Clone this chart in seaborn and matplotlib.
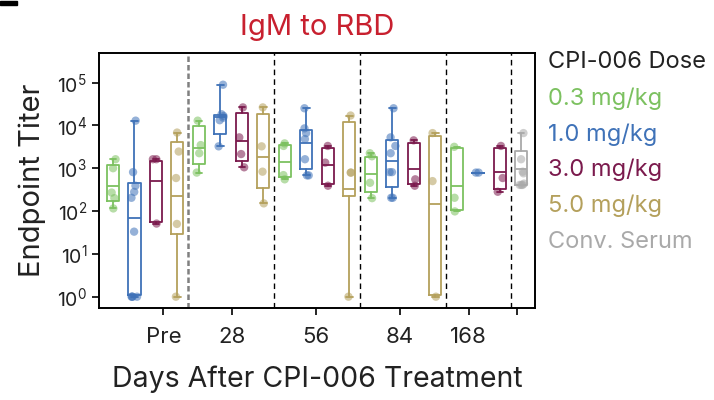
import numpy as np
import pandas as pd
import matplotlib
matplotlib.use('Agg')
import matplotlib.pyplot as plt
from matplotlib.patches import Rectangle
from matplotlib.ticker import FixedLocator, FuncFormatter, NullLocator
import seaborn as sns

# ---------------------------------------------------------------------------
# Data
# ---------------------------------------------------------------------------
dose_labels = ['0.3 mg/kg', '1.0 mg/kg', '3.0 mg/kg', '5.0 mg/kg', 'Conv. Serum']
dose_colors = ['#7cc160', '#3f72b8', '#7b1a4d', '#b4a05c', '#a9a9a9']

# one entry per box, left to right (Pre, 28, 56, 84, 168, convalescent serum)
box_dose = [0, 1, 2, 3,
            0, 1, 2, 3,
            0, 1, 2, 3,
            0, 1, 2, 3,
            0, 1, 2,
            4]

# individual endpoint titers per box
points = [
    [115, 200, 270, 1000, 1620],
    [1, 1, 1, 1, 33, 204, 280, 390, 810, 12900],
    [51, 1620, 1620],
    [1, 50, 590, 2450, 6800],
    [790, 2240, 3470, 12900],
    [3240, 13200, 15100, 16600, 18200, 89000],
    [1050, 2140, 5250, 26300],
    [151, 830, 3240, 26300],
    [550, 690, 3310, 3800],
    [680, 680, 1620, 4790, 6610, 8510, 25100],
    [390, 1350, 3310],
    [1, 790, 790, 17000],
    [200, 457, 1900, 2240],
    [204, 204, 810, 810, 2240, 3310, 5250, 25100],
    [390, 550, 4470],
    [1, 500, 6610],
    [98, 204, 3160],
    [790, 790],
    [282, 590, 3310],
    [407, 407, 407, 437, 760, 830, 1620, 6610],
]

# box summaries as drawn in the reference
whis_lo = [115, 1, 51, 1, 790, 3240, 1050, 151, 550, 680, 390, 1,
           200, 204, 390, 1, 98, 790, 282, 400]
q1 = [174, 1.1, 55, 29, 1230, 6310, 1480, 339, 617, 955, 427, 219,
      282, 372, 427, 1.1, 107, 790, 324, 400]
med = [390, 68, 500, 219, 2950, 15500, 4370, 1780, 1410, 3800, 1200, 331,
       740, 1510, 980, 148, 390, 790, 830, 955]
q3 = [1200, 457, 1510, 4070, 9770, 17800, 19100, 18600, 3470, 7760, 2950, 11700,
      1820, 4470, 3980, 5620, 2950, 790, 2950, 2570]
whis_hi = [1620, 12900, 1620, 6800, 12900, 89000, 26300, 26300, 3800, 25100, 3310, 17000,
           2240, 25100, 4470, 6610, 3160, 790, 3310, 6610]

day_labels = ['Pre', '28', '56', '84', '168', '']
day_ticks = [2.35, 5.55, 9.45, 13.35, 16.55, 18.8]
dividers = [3.5, 7.5, 11.5, 15.5, 18.5]

# ---------------------------------------------------------------------------
# Long-form table for the strip plot
# ---------------------------------------------------------------------------
rows = []
for i, pts in enumerate(points):
    for v in pts:
        rows.append({'slot': i, 'dose': dose_labels[box_dose[i]], 'titer': v})
df = pd.DataFrame(rows)

sns.set_theme(style='ticks')
plt.rcParams['font.family'] = ['Inter', 'DejaVu Sans']
plt.rcParams['mathtext.fontset'] = 'custom'
plt.rcParams['mathtext.rm'] = 'Inter'
plt.rcParams['mathtext.it'] = 'Inter'

fig = plt.figure(figsize=(7.14, 4.0), dpi=100)
ax = fig.add_axes([0.1387, 0.23, 0.6103, 0.6375])
ax.set_yscale('log')

# dividers between time points
for k, xv in enumerate(dividers):
    if k == 0:
        ax.axvline(xv, color='#808080', lw=1.8, ls=(0, (2.2, 1.2)), zorder=1)
    else:
        ax.axvline(xv, color='black', lw=1.0, ls=(0, (4, 3)), zorder=1)

# boxes
for i in range(len(points)):
    c = dose_colors[box_dose[i]]
    lp = dict(color=c, linewidth=1.3)
    stats = [{'med': med[i], 'q1': q1[i], 'q3': q3[i],
              'whislo': whis_lo[i], 'whishi': whis_hi[i], 'fliers': []}]
    ax.bxp(stats, positions=[i], widths=0.56, capwidths=0.3, showfliers=False,
           manage_ticks=False, boxprops=lp, medianprops=lp,
           whiskerprops=lp, capprops=lp)

# individual points
np.random.seed(3)
sns.stripplot(data=df, x='slot', y='titer', hue='dose', hue_order=dose_labels,
              palette=dict(zip(dose_labels, dose_colors)), native_scale=True,
              jitter=0.15, size=6, alpha=0.55, linewidth=0, legend=False,
              ax=ax, zorder=3)

ax.set_xlim(-0.65, 19.63)
ax.set_ylim(10 ** -0.264, 10 ** 5.69)

ax.yaxis.set_major_locator(FixedLocator([10.0 ** k for k in range(6)]))
ax.yaxis.set_minor_locator(NullLocator())
ax.yaxis.set_major_formatter(FuncFormatter(lambda v, p: r'$10^{%d}$' % round(np.log10(v))))
ax.xaxis.set_major_locator(FixedLocator(day_ticks))
ax.set_xticklabels(day_labels)
ax.tick_params(axis='both', direction='out', length=5, width=1.2, color='black',
               labelcolor='#222222')
ax.tick_params(axis='x', labelsize=16, pad=9)
ax.tick_params(axis='y', labelsize=14)

for s in ax.spines.values():
    s.set_visible(True)
    s.set_linewidth(1.4)
    s.set_color('black')

ax.set_xlabel('Days After CPI-006 Treatment', fontsize=20.5, color='#222222', labelpad=13)
ax.set_ylabel('Endpoint Titer', fontsize=21, color='#222222', labelpad=8)
ax.set_title('IgM to RBD', fontsize=21, color='#c8202f', pad=13)

# text legend
fig.text(0.7675, 0.845, 'CPI-006 Dose', fontsize=17, color='#222222', va='center')
for k, (lab, col) in enumerate(zip(dose_labels, dose_colors)):
    fig.text(0.7675, 0.754 - k * 0.0898, lab, fontsize=17, color=col, va='center')

# small mark in the upper-left corner
fig.add_artist(Rectangle((0, 1 - 5 / 400), 17 / 714, 4 / 400,
                         transform=fig.transFigure, color='black'))

fig.savefig('out.png', dpi=100)
